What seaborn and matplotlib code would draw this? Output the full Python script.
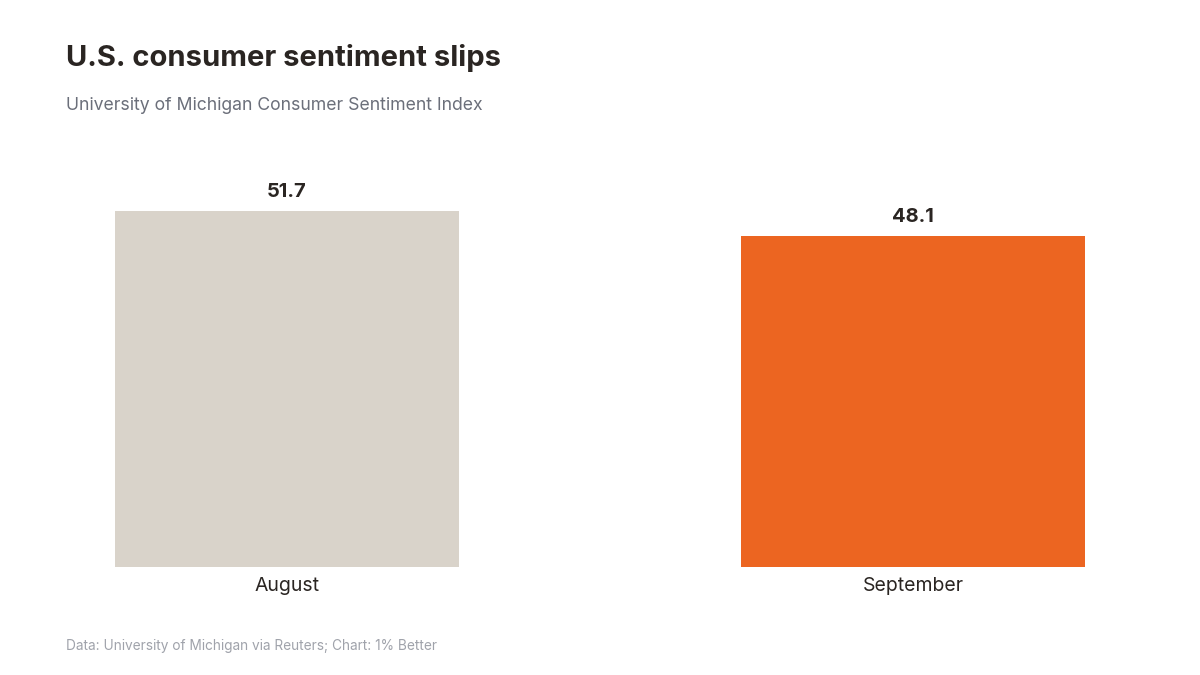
import matplotlib
matplotlib.use("Agg")
import matplotlib.pyplot as plt
import seaborn as sns
import pandas as pd

months = ["August", "September"]
values = [51.7, 48.1]
bar_colors = ["#d9d3ca", "#ec6521"]
value_labels = ["51.7", "48.1"]

sns.set_theme(style="white")
plt.rcParams["font.family"] = ["Inter", "DejaVu Sans"]

df = pd.DataFrame({"month": months, "value": values})

fig = plt.figure(figsize=(12, 6.75), dpi=100)
ax = fig.add_axes([68 / 1200, 108 / 675, 1064 / 1200, 413 / 675])
sns.barplot(data=df, x="month", y="value", hue="month", palette=bar_colors,
            width=0.55, legend=False, ax=ax, saturation=1, linewidth=0)
ax.set_xlim(-0.35, 1.35)
ax.set_ylim(0, 60)
for spine in ax.spines.values():
    spine.set_visible(False)
ax.set_yticks([])
ax.set_xlabel("")
ax.set_ylabel("")
ax.tick_params(axis="x", length=0, pad=7, labelsize=14, labelcolor="#2a2522")

for i, (v, lab) in enumerate(zip(values, value_labels)):
    ax.annotate(lab, (i, v), xytext=(0, 7), textcoords="offset points",
                ha="center", va="bottom", fontsize=14.5, fontweight="bold",
                color="#2a2522")

fig.text(66 / 1200, 1 - 58 / 675, "U.S. consumer sentiment slips", fontsize=21,
         fontweight="bold", color="#2a2522", ha="left", va="center")
fig.text(66 / 1200, 1 - 105 / 675, "University of Michigan Consumer Sentiment Index",
         fontsize=12.7, color="#6b6f7a", ha="left", va="center")
fig.text(66 / 1200, 1 - 646 / 675, "Data: University of Michigan via Reuters; Chart: 1% Better",
         fontsize=9.85, color="#a0a3ab", ha="left", va="center")

fig.savefig("out.png", dpi=100, facecolor="white")
